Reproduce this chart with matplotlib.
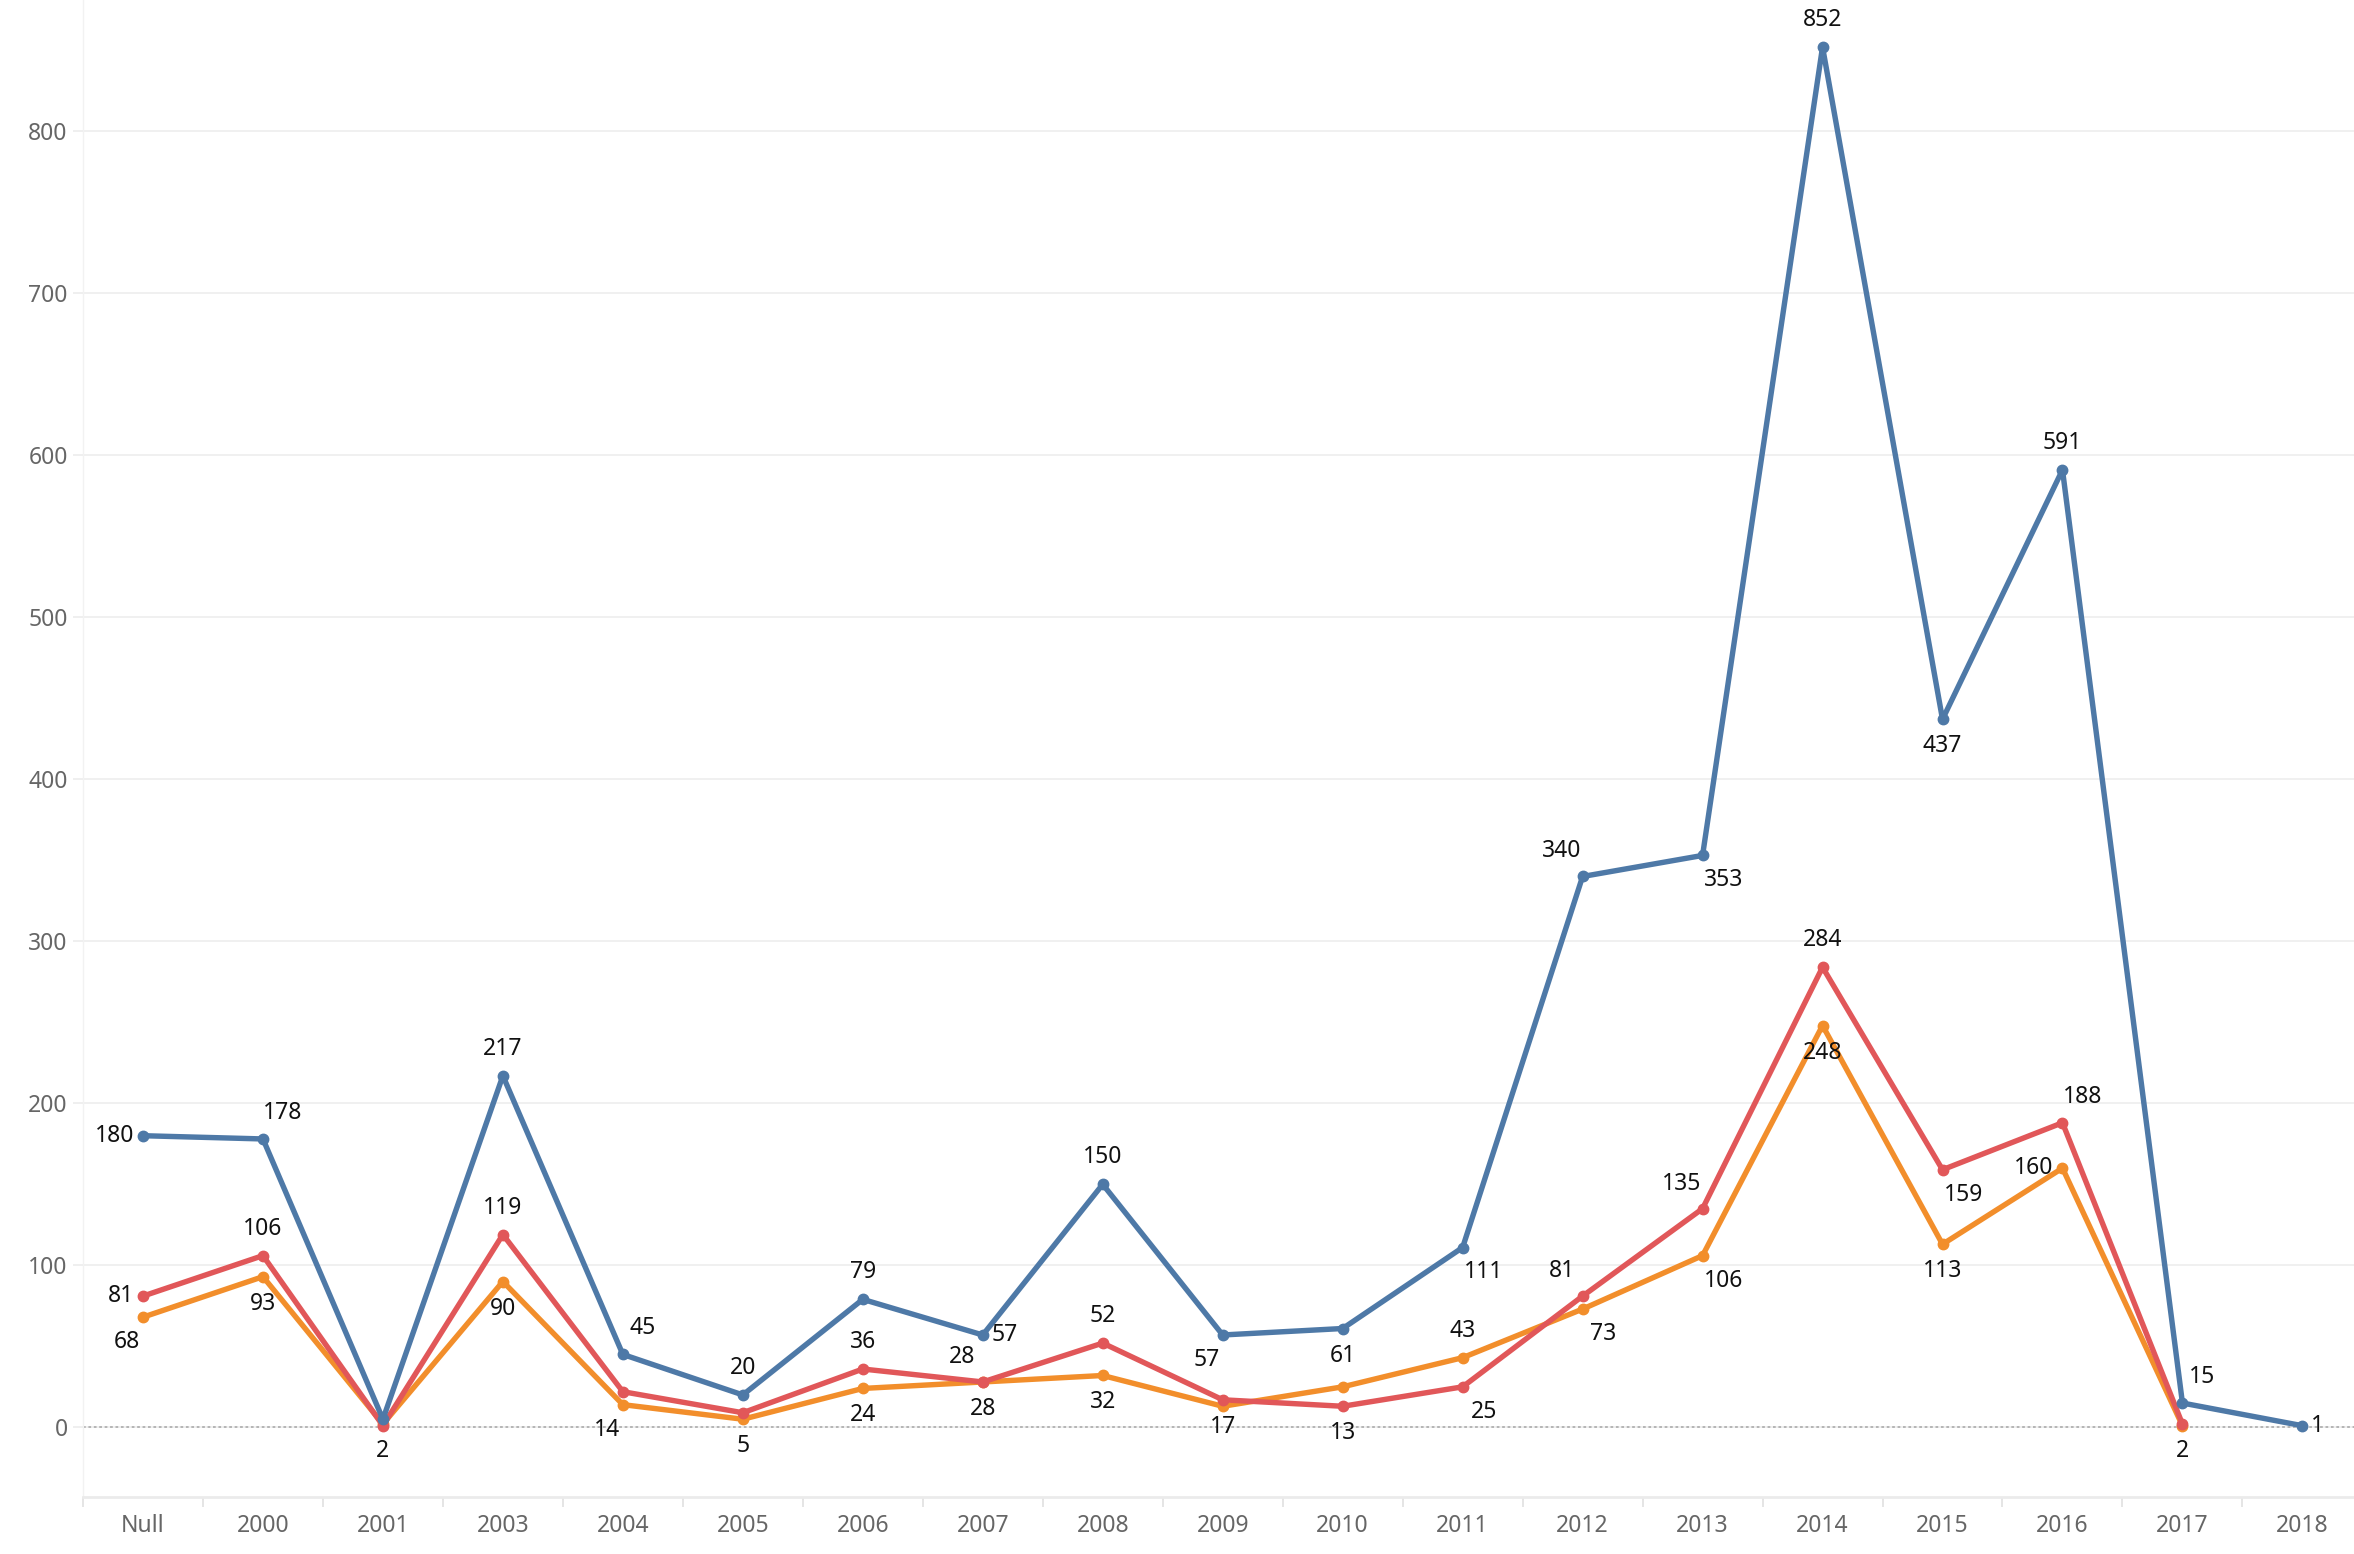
import numpy as np
import matplotlib.pyplot as plt
from matplotlib.ticker import FixedLocator

plt.rcParams['font.family'] = ['Noto Sans', 'DejaVu Sans']

years = ["Null", "2000", "2001", "2003", "2004", "2005", "2006", "2007", "2008", "2009",
         "2010", "2011", "2012", "2013", "2014", "2015", "2016", "2017", "2018"]

blue = [180, 178, 5, 217, 45, 20, 79, 57, 150, 57, 61, 111, 340, 353, 852, 437, 591, 15, 1]
red = [81, 106, 1, 119, 22, 9, 36, 28, 52, 17, 13, 25, 81, 135, 284, 159, 188, 2, None]
orange = [68, 93, 2, 90, 14, 5, 24, 28, 32, 13, 25, 43, 73, 106, 248, 113, 160, 1, None]

# where each value label sits relative to its point ('' = no label)
blue_lab = ["l", "ar", "", "a", "ar", "a", "a", "r", "a", "bl", "b", "br", "al", "br", "a", "b", "a", "ar", "r"]
red_lab = ["l", "a", "", "a", "", "", "a", "al", "a", "b", "b", "br", "al", "al", "a", "br", "ar", "b", ""]
orange_lab = ["bl", "b", "b", "b", "bl", "b", "b", "b", "b", "", "", "a", "br", "br", "b", "b", "l", "", ""]

OFFS = {
    "a": (0, 27, "center"), "b": (0, -27, "center"),
    "l": (-9, 0, "right"), "r": (9, 0, "left"),
    "ar": (20, 26, "center"), "al": (-21, 25, "center"),
    "br": (21, -25, "center"), "bl": (-16, -25, "center"),
}

fig = plt.figure(figsize=(23.54, 15.54), dpi=100)
ax = fig.add_axes([83 / 2354, 57 / 1554, 1 - 83 / 2354, 1 - 57 / 1554])

x = np.arange(len(years))
series = [(orange, "#f28e2b", orange_lab), (red, "#e15759", red_lab), (blue, "#4e79a7", blue_lab)]

for z, (vals, col, labs) in enumerate(series):
    xs = [i for i, v in zip(x, vals) if v is not None]
    vs = [v for v in vals if v is not None]
    ax.plot(xs, vs, color=col, lw=3.9, marker="o", ms=7.5, zorder=3 + z,
            solid_joinstyle="round")

for vals, col, labs in series:
    for i, (v, d) in enumerate(zip(vals, labs)):
        if v is None or not d:
            continue
        dx, dy, ha = OFFS[d]
        ax.annotate(str(v), (i, v), xytext=(dx, dy), textcoords="offset pixels",
                    ha=ha, va="center", fontsize=16.5, color="#111111", zorder=10)

ax.set_xlim(-0.5, 18.43)
ax.set_ylim(-43, 881)

ax.set_yticks(np.arange(0, 900, 100))
ax.yaxis.grid(True, color="#f0f0f0", lw=1.4)
ax.set_axisbelow(True)
ax.axhline(0, color="#b0b0b0", lw=1.3, ls=(0, (1.5, 1.5)), zorder=2)

ax.set_xticks(x)
ax.set_xticklabels(years)
ax.xaxis.set_minor_locator(FixedLocator(np.arange(-0.5, 18.5, 1)))
ax.tick_params(axis="x", which="major", length=0, pad=12, labelsize=16.5, labelcolor="#666666")
ax.tick_params(axis="x", which="minor", length=7, width=1.3, color="#e3e3e3")
ax.tick_params(axis="y", length=7, width=1.3, color="#eeeeee", pad=4, labelsize=16.5,
               labelcolor="#666666")

for s in ["top", "right"]:
    ax.spines[s].set_visible(False)
ax.spines["left"].set_color("#f2f2f2")
ax.spines["left"].set_linewidth(1.0)
ax.spines["bottom"].set_color("#ebebeb")
ax.spines["bottom"].set_linewidth(2)

fig.savefig("out.png", dpi=100)
